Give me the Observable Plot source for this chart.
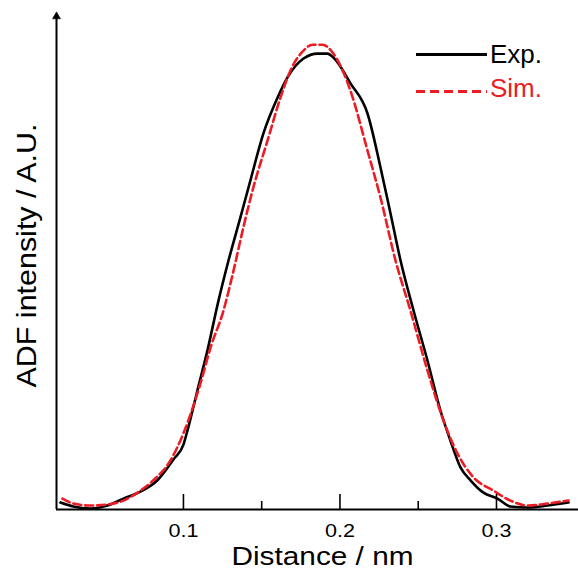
<!DOCTYPE html>
<html>
<head>
<meta charset="utf-8">
<script src="https://cdn.jsdelivr.net/npm/d3@7"></script>
<script src="https://cdn.jsdelivr.net/npm/@observablehq/plot@0.6"></script>
<style>
  html, body { margin: 0; padding: 0; background: #fff; }
  #wrap { position: relative; width: 578px; height: 569px; font-family: "Liberation Sans", Arial, sans-serif; }
  .leg-line { position: absolute; left: 416px; width: 71px; height: 3px; }
  .leg-text { position: absolute; left: 490px; font-size: 26px; line-height: 26px; white-space: nowrap; }
</style>
</head>
<body>
<div id="wrap"></div>
<script>
// ---- data (distance in nm, intensity in arbitrary units) ----
const expX = [0.0214,0.0297,0.0406,0.0514,0.0617,0.0725,0.0834,0.0936,0.1000,0.1026,0.1089,0.1153,0.1224,0.1288,0.1364,0.1428,0.1511,0.1601,0.1665,0.1767,0.1856,0.1920,0.1958,0.2067,0.2176,0.2259,0.2323,0.2387,0.2470,0.2559,0.2642,0.2706,0.2770,0.2834,0.2917,0.3006,0.3089,0.3198,0.3326,0.3460];
const expY = [0.014,0.006,0.002,0.008,0.022,0.036,0.059,0.101,0.131,0.160,0.240,0.321,0.422,0.503,0.590,0.665,0.760,0.832,0.873,0.911,0.921,0.921,0.913,0.861,0.800,0.691,0.598,0.503,0.402,0.301,0.200,0.139,0.085,0.059,0.034,0.022,0.006,0.004,0.008,0.014];
const simX = [0.0227,0.0297,0.0406,0.0514,0.0617,0.0725,0.0808,0.0917,0.1000,0.1109,0.1173,0.1256,0.1313,0.1383,0.1447,0.1537,0.1620,0.1684,0.1767,0.1824,0.1888,0.1958,0.2067,0.2176,0.2259,0.2355,0.2450,0.2559,0.2661,0.2751,0.2853,0.2981,0.3089,0.3198,0.3326,0.3460];
const simY = [0.022,0.012,0.008,0.010,0.018,0.038,0.059,0.099,0.154,0.255,0.327,0.402,0.473,0.570,0.651,0.745,0.832,0.887,0.927,0.939,0.939,0.921,0.846,0.725,0.630,0.503,0.402,0.281,0.180,0.113,0.065,0.038,0.018,0.008,0.012,0.018];
const majorTicks = [0.1, 0.2, 0.3];
const minorTicks = [0.15, 0.25];
const tickLabels = ["0.1", "0.2", "0.3"];
const seriesNames = ["Exp.", "Sim."];
const xLabel = "Distance / nm";
const yLabel = "ADF intensity / A.U.";

const xDomain = [0.0189, 0.3524];
const expData = expX.map((x, i) => ({x, y: expY[i]}));
const simData = simX.map((x, i) => ({x, y: simY[i]}));
const red = "#ec1c24";

const chart = Plot.plot({
  width: 578,
  height: 569,
  marginLeft: 56,
  marginRight: 0,
  marginTop: 14,
  marginBottom: 60,
  style: {fontFamily: "'Liberation Sans', Arial, sans-serif", background: "#fff", overflow: "visible"},
  x: {domain: xDomain, axis: null},
  y: {domain: [0, 1], axis: null},
  marks: [
    Plot.line(expData, {x: "x", y: "y", stroke: "black", strokeWidth: 2.6, curve: "monotone-x"}),
    Plot.line(simData, {x: "x", y: "y", stroke: red, strokeWidth: 2.6, strokeDasharray: "8,4", curve: "monotone-x"}),
    Plot.ruleY([0], {stroke: "black", strokeWidth: 2}),
    Plot.ruleX([xDomain[0]], {stroke: "black", strokeWidth: 2}),
    Plot.dot([xDomain[0]], {x: d => d, y: () => 1, symbol: "triangle", r: 3, fill: "black", stroke: "black", strokeWidth: 0.5, dy: 2}),
    Plot.axisX(majorTicks, {tickSize: -15, tickFormat: () => "", label: null, strokeWidth: 1.6}),
    Plot.axisX(minorTicks, {tickSize: -8, tickFormat: () => "", label: null, strokeWidth: 1.6}),
    Plot.text(majorTicks, {x: d => d, text: (d, i) => tickLabels[i], frameAnchor: "bottom", lineAnchor: "top", dy: 14, fontSize: 19, fill: "black"}),
    Plot.text([xLabel], {frameAnchor: "bottom", dx: 5, dy: 47, fontSize: 25, fill: "black", lineAnchor: "middle"}),
    Plot.text([yLabel], {frameAnchor: "left", rotate: -90, textAnchor: "middle", dx: -29, dy: -6.5, fontSize: 28, fill: "black", lineAnchor: "middle"})
  ]
});

const wrap = document.getElementById("wrap");
wrap.appendChild(chart);

// stretch texts to the reference widths
chart.querySelectorAll("text").forEach(t => {
  const s = t.textContent.trim();
  if (s === xLabel) { t.setAttribute("textLength", 182); t.setAttribute("lengthAdjust", "spacingAndGlyphs"); }
  if (s === yLabel) { t.setAttribute("textLength", 264); t.setAttribute("lengthAdjust", "spacingAndGlyphs"); }
  if (tickLabels.includes(s)) { t.setAttribute("textLength", 30); t.setAttribute("lengthAdjust", "spacingAndGlyphs"); }
});

// legend
const legendStyles = [
  {color: "black", top: 53, textTop: 41, bg: "black"},
  {color: red, top: 90, textTop: 75, bg: `repeating-linear-gradient(to right, ${red} 0 9px, transparent 9px 14px)`}
];
seriesNames.forEach((name, i) => {
  const s = legendStyles[i];
  const line = document.createElement("div");
  line.className = "leg-line";
  line.style.top = s.top + "px";
  line.style.background = s.bg;
  wrap.appendChild(line);
  const txt = document.createElement("div");
  txt.className = "leg-text";
  txt.style.top = s.textTop + "px";
  txt.style.color = s.color;
  txt.textContent = name;
  wrap.appendChild(txt);
});
</script>
</body>
</html>
